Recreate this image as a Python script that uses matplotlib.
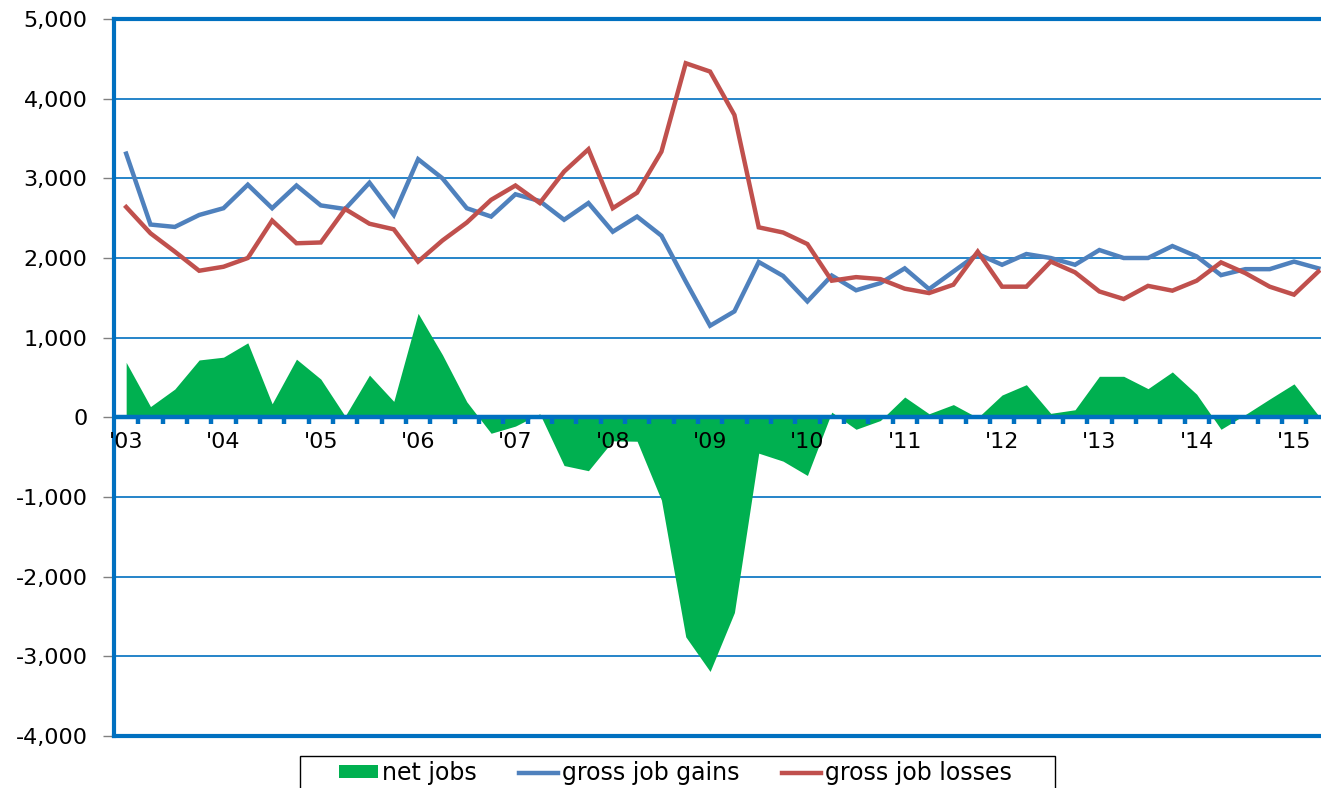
import numpy as np
import matplotlib.pyplot as plt
from matplotlib.patches import Patch, Rectangle
from matplotlib.lines import Line2D

# quarterly, 2003 Q1 .. 2015 Q2 (thousands)
year_labels = ["'03", "'04", "'05", "'06", "'07", "'08", "'09",
               "'10", "'11", "'12", "'13", "'14", "'15"]

gains = [3310, 2420, 2390, 2540, 2625, 2920, 2625, 2910, 2660, 2615,
         2945, 2540, 3240, 3000, 2625, 2520, 2800, 2715, 2480, 2690,
         2330, 2520, 2280, 1705, 1150, 1330, 1950, 1775, 1455, 1780,
         1595, 1685, 1870, 1610, 1830, 2050, 1915, 2050, 2000, 1915,
         2100, 2000, 2000, 2150, 2020, 1785, 1860, 1860, 1955, 1870]

losses = [2640, 2310, 2080, 1840, 1890, 2000, 2470, 2185, 2195, 2615,
          2430, 2360, 1955, 2220, 2445, 2730, 2910, 2690, 3085, 3365,
          2625, 2820, 3335, 4445, 4340, 3795, 2385, 2320, 2175, 1715,
          1760, 1735, 1615, 1560, 1665, 2080, 1640, 1640, 1955, 1820,
          1580, 1485, 1650, 1590, 1715, 1945, 1810, 1640, 1540, 1830]

net = [690, 135, 355, 720, 755, 935, 170, 730, 480, 15,
       530, 200, 1305, 785, 195, -200, -110, 45, -605, -670,
       -295, -300, -1040, -2755, -3190, -2450, -450, -550, -730, 65,
       -150, -40, 255, 45, 160, -5, 280, 410, 50, 95,
       515, 515, 360, 570, 290, -150, 35, 230, 420, 25]

GREEN = '#00B050'
BLUE = '#4F81BD'
RED = '#C0504D'
AXBLUE = '#0070C0'

plt.rcParams['font.family'] = ['DejaVu Sans']
plt.rcParams['font.size'] = 16

W, H = 1321, 788
fig = plt.figure(figsize=(W / 100, H / 100), dpi=100)
ax = fig.add_axes([114 / W, 1 - 736 / H, (W - 114) / W, 717 / H])

x = np.arange(len(gains))
step = 24.33  # px per quarter
ax.set_xlim(-0.5, -0.5 + (W - 114) / step)
ax.set_ylim(-4000, 5000)

# gridlines
ax.set_yticks(range(-4000, 5001, 1000))
ax.set_yticklabels([f"{v:,}" for v in range(-4000, 5001, 1000)])
ax.grid(axis='y', color=AXBLUE, lw=1.2, zorder=1)
ax.set_axisbelow(True)
ax.set_xticks([])
ax.tick_params(axis='y', length=8, color='#808080', width=1, pad=11,
               labelsize=16)

# data
ax.fill_between(x, net, 0, color=GREEN, lw=0, zorder=2)
ax.plot(x, gains, color=BLUE, lw=3.2, zorder=5, solid_joinstyle='miter')
ax.plot(x, losses, color=RED, lw=3.2, zorder=5, solid_joinstyle='miter')

# zero axis with category tick marks
ax.axhline(0, color=AXBLUE, lw=3.2, zorder=4)
ax.vlines(x[:-1] + 0.5, -80, 0, color=AXBLUE, lw=3.2, zorder=4)

for i, lbl in enumerate(year_labels):
    ax.annotate(lbl, xy=(i * 4, 0), xytext=(0, -17.8), textcoords='offset points',
                ha='center', va='center', fontsize=16, zorder=6)

for side in ['top', 'bottom', 'left']:
    ax.spines[side].set_color(AXBLUE)
    ax.spines[side].set_linewidth(3)
ax.spines['right'].set_visible(False)

# legend
handles = [Patch(facecolor=GREEN, edgecolor='none'),
           Line2D([], [], color=BLUE, lw=3.2),
           Line2D([], [], color=RED, lw=3.2)]
labels = ['net jobs', 'gross job gains', 'gross job losses']
fig.legend(handles, labels, loc='center left',
           bbox_to_anchor=(327 / W, 1 - 773 / H), ncol=3, frameon=False,
           borderpad=0, handlelength=1.65, handleheight=0.42,
           handletextpad=0.17, columnspacing=1.8, fontsize=17)
fig.add_artist(Rectangle((300 / W, -0.05), (1055 - 300) / W, 0.05 + 1 - 756 / H,
                         transform=fig.transFigure, fill=False,
                         edgecolor='black', lw=1))

fig.savefig('out.png', dpi=100)
